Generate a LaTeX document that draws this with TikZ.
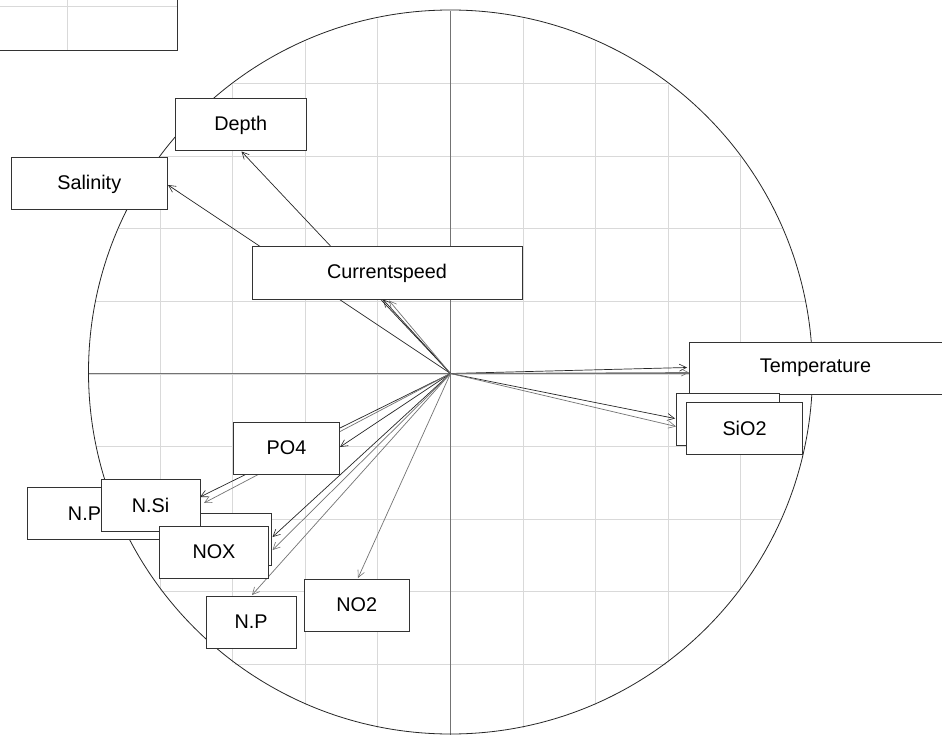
\documentclass[tikz,border=0pt]{standalone}
\usepackage{fontspec}
\setmainfont{Liberation Sans}
\usetikzlibrary{arrows.meta}
\begin{document}
\begin{tikzpicture}[x=1pt,y=-1pt,
  gridline/.style={draw=black!15,line width=1pt},
  axisline/.style={draw=black!55,line width=1.1pt},
  circ/.style={draw=black!85,line width=0.8pt},
  arr/.style={draw=black!85,line width=0.7pt,-{Straight Barb[length=7pt,width=7pt,line width=0.6pt]}},
  arrg/.style={draw=black!55,line width=0.7pt,-{Straight Barb[length=7pt,width=7pt,line width=0.6pt]}},
  lbox/.style={draw=black!80,fill=white,line width=1pt,inner sep=0pt,minimum height=52pt,
     font=\fontsize{19.8}{22}\selectfont},
  lbl/.style={inner sep=0pt,font=\fontsize{19.8}{22}\selectfont}]
\useasboundingbox (0,0) rectangle (942,735);
\clip (0,0) rectangle (942,735);
\fill[white] (0,0) rectangle (942,735);
\coordinate (O) at (450.5,373.5);
% grid clipped to circle
\begin{scope}
  \clip (O) circle[radius=362pt];
  \foreach \k in {-5,...,5}{
    \draw[gridline] (450.5+72.6*\k,0) -- (450.5+72.6*\k,740);
    \draw[gridline] (80,374+72.6*\k) -- (820,374+72.6*\k);
  }
\end{scope}
\coordinate (axL) at (88.5,373.5);
\coordinate (axR) at (812.5,373.5);
\coordinate (axT) at (450.5,11);
\coordinate (axB) at (450.5,735);
\draw[axisline] (axL) -- (axR);
\draw[axisline] (axT) -- (axB);
\draw[circ] (450.5,372) circle[radius=362pt];
% arrow tips
\coordinate (tDepth) at (241.5,151.5);
\coordinate (tSal) at (168,185);
\coordinate (tCur1) at (383,299.5);
\coordinate (tCur2) at (389,300.5);
\coordinate (tTem1) at (687,367.5);
\coordinate (tTem2) at (689,372.5);
\coordinate (tSi1) at (675,418.5);
\coordinate (tSi2) at (676,426.5);
\coordinate (tPO) at (340,447);
\coordinate (tNSi1) at (200,497);
\coordinate (tNSi2) at (204,503);
\coordinate (tNOX1) at (272.5,537);
\coordinate (tNOX2) at (272.5,550);
\coordinate (tNP) at (252,595);
\coordinate (tNO2) at (358,578);
\draw[arr] (O) -- (tDepth);
\draw[arr] (O) -- (tSal);
\draw[arr] (O) -- (tCur1);
\draw[arrg] (O) -- (tCur2);
\draw[arr] (O) -- (tTem1);
\draw[arrg] (O) -- (tTem2);
\draw[arr] (O) -- (tSi1);
\draw[arrg] (O) -- (tSi2);
\draw[arr] (O) -- (tPO);
\draw[arr] (O) -- (tNSi1);
\draw[arrg] (O) -- (tNSi2);
\draw[arr] (O) -- (tNOX1);
\draw[arrg] (O) -- (tNOX2);
\draw[arrg] (O) -- (tNP);
\draw[arrg] (O) -- (tNO2);
% label boxes
\node[lbox,minimum width=131.5pt] (depth) at (240.75,125) {Depth};
\node[lbox,minimum width=156.5pt] (sal) at (89.25,184) {Salinity};
\node[lbox,minimum width=270pt] (cur) at (387,273) {Currentspeed};
\node[lbox,minimum width=253pt] (tem) at (815.5,368) {Temperature};
\node[lbox,minimum width=103pt] (sib) at (727.5,419) {};
\node[lbox,minimum width=116pt] (si) at (744.5,428.5) {SiO2};
\node[lbox,minimum width=106pt] (po) at (286.5,448) {PO4};
\node[lbox,minimum width=137.5pt] (npl) at (96.25,513.5) {};
\node[lbl] (npltext) at (84.5,513.5) {N.P};
\node[lbox,minimum width=108.5pt] (noxb) at (217.25,539.5) {};
\node[lbox,minimum width=99pt] (nsi) at (150.5,505) {N.Si};
\node[lbox,minimum width=109pt] (nox) at (214,552) {NOX};
\node[lbox,minimum width=104.5pt] (no2) at (356.75,605) {NO2};
\node[lbox,minimum width=90pt] (np) at (251,622) {N.P};
% inset box top-left
\draw[draw=black!80,fill=white,line width=1.2pt] (-5,-5) rectangle (177.5,50.5);
\draw[gridline] (67.5,-5) -- (67.5,50);
\draw[gridline] (-5,7) -- (177,7);
\end{tikzpicture}
\end{document}
